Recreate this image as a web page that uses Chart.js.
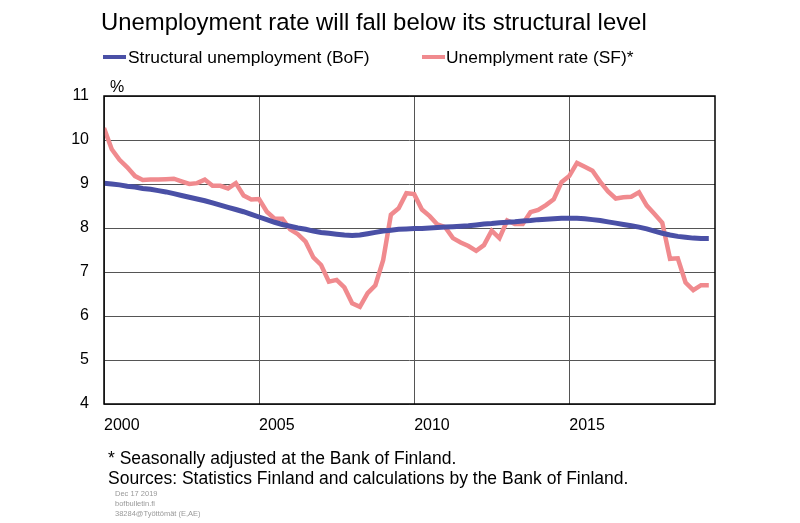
<!DOCTYPE html>
<html>
<head>
<meta charset="utf-8">
<script src="https://cdn.jsdelivr.net/npm/chart.js@4/dist/chart.umd.min.js"></script>
<style>
  html, body { margin:0; padding:0; background:#fff; }
  body { width:800px; height:523px; position:relative; overflow:hidden; font-family:"Liberation Sans", Arial, sans-serif; color:#000; }
  #c { position:absolute; left:0; top:0; }
  .t { position:absolute; white-space:nowrap; line-height:1; }
  .sw { position:absolute; height:4px; }
</style>
</head>
<body>
<canvas id="c" width="800" height="523"></canvas>
<div class="t" id="title" style="left:101px; top:10px; font-size:23.9px;">Unemployment rate will fall below its structural level</div>
<div class="sw" id="sw0" style="left:103px; top:55px; width:23px;"></div>
<div class="t" id="lg0" style="left:128px; top:48.6px; font-size:17.4px;"></div>
<div class="sw" id="sw1" style="left:422px; top:55px; width:23px;"></div>
<div class="t" id="lg1" style="left:446px; top:48.6px; font-size:17.4px;"></div>
<div class="t" style="left:110px; top:79px; font-size:16px;">%</div>
<div class="t" style="left:108px; top:449.5px; font-size:17.5px;">* Seasonally adjusted at the Bank of Finland.</div>
<div class="t" style="left:108px; top:469.5px; font-size:17.5px;">Sources: Statistics Finland and calculations by the Bank of Finland.</div>
<div class="t" style="left:115px; top:489.5px; font-size:7.5px; color:#999;">Dec 17 2019</div>
<div class="t" style="left:115px; top:499.5px; font-size:7.5px; color:#999;">bofbulletin.fi</div>
<div class="t" style="left:115px; top:509.5px; font-size:7.5px; color:#999;">38284@Työttömät (E,AE)</div>
<script>
// Quarterly observations, 2000Q1 ... 2019Q3
const quarters = [];
for (let y = 2000; y <= 2019; y++) for (let q = 1; q <= 4; q++) quarters.push(y + 'Q' + q);
quarters.length = 79;

const seriesNames = ['Structural unemployment (BoF)', 'Unemplyment rate (SF)*'];
const seriesColors = ['#4a50a6', '#f08a8e'];

const structural = [
  9.02, 9.00, 8.98, 8.95, 8.93, 8.90, 8.88, 8.85, 8.82, 8.78,
  8.74, 8.70, 8.66, 8.62, 8.57, 8.52, 8.47, 8.42, 8.37, 8.31,
  8.25, 8.19, 8.13, 8.08, 8.04, 8.00, 7.97, 7.93, 7.90, 7.88,
  7.86, 7.84, 7.83, 7.84, 7.87, 7.90, 7.93, 7.95, 7.97, 7.98,
  7.99, 7.99, 8.00, 8.01, 8.02, 8.03, 8.04, 8.05, 8.07, 8.09,
  8.10, 8.12, 8.13, 8.14, 8.16, 8.17, 8.19, 8.20, 8.21, 8.22,
  8.22, 8.22, 8.21, 8.19, 8.17, 8.14, 8.11, 8.08, 8.05, 8.02,
  7.98, 7.93, 7.88, 7.84, 7.81, 7.79, 7.77, 7.76, 7.76
];

const unemployment = [
  10.27, 9.79, 9.55, 9.38, 9.18, 9.09, 9.10, 9.10, 9.11, 9.12,
  9.06, 9.00, 9.02, 9.10, 8.96, 8.96, 8.90, 9.02, 8.74, 8.65,
  8.66, 8.37, 8.21, 8.21, 7.97, 7.86, 7.69, 7.33, 7.16, 6.78,
  6.82, 6.65, 6.29, 6.21, 6.52, 6.70, 7.27, 8.30, 8.45, 8.79,
  8.77, 8.42, 8.27, 8.08, 8.02, 7.77, 7.67, 7.59, 7.48, 7.61,
  7.94, 7.77, 8.17, 8.09, 8.09, 8.36, 8.41, 8.52, 8.65, 9.04,
  9.18, 9.48, 9.39, 9.30, 9.05, 8.83, 8.67, 8.70, 8.71, 8.81,
  8.51, 8.32, 8.12, 7.30, 7.31, 6.76, 6.59, 6.70, 6.70
];

const xTickLabels = ['2000', '2005', '2010', '2015'];
const xTickIndex = [0, 20, 40, 60];
const yTicks = [4, 5, 6, 7, 8, 9, 10, 11];

document.getElementById('lg0').textContent = seriesNames[0];
document.getElementById('lg1').textContent = seriesNames[1];
document.getElementById('sw0').style.background = seriesColors[0];
document.getElementById('sw1').style.background = seriesColors[1];

const toPts = arr => arr.map((v, i) => ({ x: i, y: v }));

const boxPlugin = {
  id: 'box',
  afterDraw(chart) {
    const a = chart.chartArea, ctx = chart.ctx;
    ctx.save();
    ctx.strokeStyle = '#000';
    ctx.lineWidth = 1.5;
    ctx.strokeRect(a.left, a.top, a.right - a.left, a.bottom - a.top);
    ctx.restore();
  }
};

new Chart(document.getElementById('c'), {
  type: 'line',
  data: {
    datasets: [
      { label: seriesNames[1], data: toPts(unemployment), borderColor: seriesColors[1], borderWidth: 4.5, pointRadius: 0, tension: 0, fill: false, order: 1 },
      { label: seriesNames[0], data: toPts(structural), borderColor: seriesColors[0], borderWidth: 5, pointRadius: 0, tension: 0, fill: false, order: 0 }
    ]
  },
  options: {
    responsive: false,
    animation: false,
    devicePixelRatio: 1,
    layout: { padding: { left: 0, top: 96, right: 85, bottom: 0 } },
    plugins: { legend: { display: false }, title: { display: false }, tooltip: { enabled: false } },
    scales: {
      x: {
        type: 'linear', min: 0, max: 78.8,
        afterBuildTicks: s => { s.ticks = xTickIndex.map(v => ({ value: v })); },
        afterFit: s => { s.height = 119; },
        grid: { color: '#555', lineWidth: 1, drawTicks: false },
        border: { display: false },
        ticks: {
          autoSkip: false, maxRotation: 0, align: 'start', padding: 12,
          color: '#000', font: { family: 'Liberation Sans', size: 16 },
          callback: v => xTickLabels[xTickIndex.indexOf(v)]
        }
      },
      y: {
        min: 4, max: 11,
        afterBuildTicks: s => { s.ticks = yTicks.map(v => ({ value: v })); },
        afterFit: s => { s.width = 104; },
        grid: { color: '#555', lineWidth: 1, drawTicks: false },
        border: { display: false },
        ticks: { padding: 15, color: '#000', font: { family: 'Liberation Sans', size: 16 } }
      }
    }
  },
  plugins: [boxPlugin]
});
</script>
</body>
</html>
